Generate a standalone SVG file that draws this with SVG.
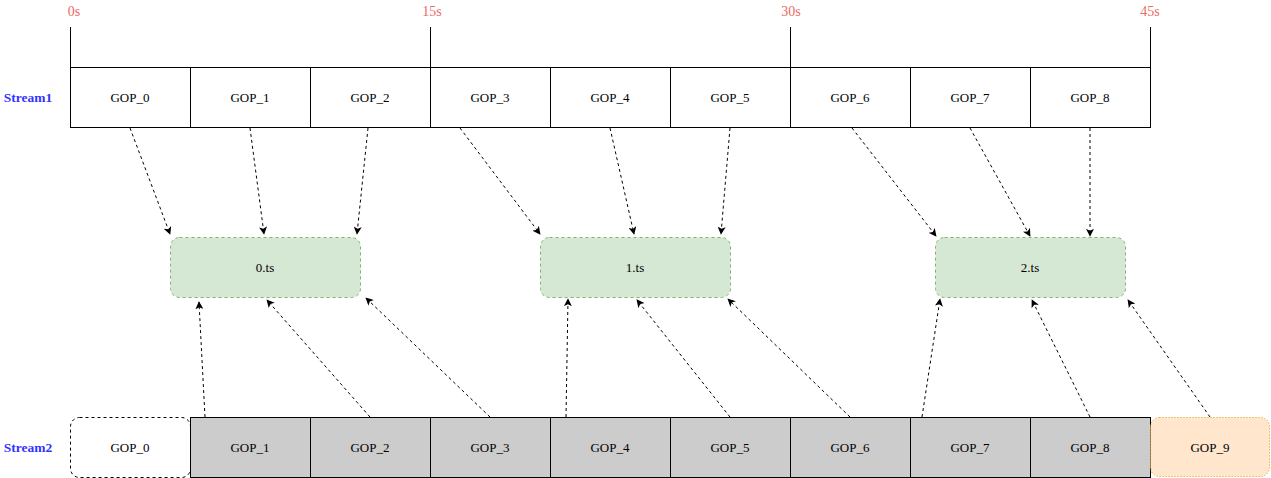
<svg xmlns="http://www.w3.org/2000/svg" width="1271" height="478" viewBox="0 0 1271 478">
<style>
text{font-family:"Liberation Serif","Times New Roman",serif;font-size:13px;text-anchor:middle;dominant-baseline:central;fill:#000}
.t{fill:#EA6B66;font-size:14px}
.s{fill:#3333FF;font-weight:bold;font-size:13.5px}
.g{fill:#fff;stroke:#000;stroke-width:1}
.gr{fill:#cccccc;stroke:#000;stroke-width:1}
.ts{fill:#d5e8d4;stroke:#82b366;stroke-width:1;stroke-dasharray:3 3}
.c{fill:none;stroke:#000;stroke-width:1;stroke-dasharray:3 3;marker-end:url(#a)}
.tick{stroke:#000;stroke-width:1;fill:none}
</style>
<defs>
<marker id="a" viewBox="0 0 10 10" refX="9" refY="5" markerWidth="8" markerHeight="8" orient="auto" markerUnits="userSpaceOnUse">
<path d="M0,0 L10,5 L0,10 L2.5,5 Z" fill="#000"/>
</marker>
</defs>
<rect width="1271" height="478" fill="#fff"/>
<g id="timeline">
<path class="tick" d="M70.5,27V67M430.5,27V67M790.5,27V67M1150.5,27V67"/>
<text class="t" x="74" y="11">0s</text>
<text class="t" x="432" y="11">15s</text>
<text class="t" x="791" y="11">30s</text>
<text class="t" x="1150" y="11">45s</text>
</g>
<g id="stream1-label"><text class="s" x="28" y="97">Stream1</text></g>
<g id="stream2-label"><text class="s" x="28" y="447">Stream2</text></g>
<g id="s1-gop0"><rect class="g" x="70.5" y="67.5" width="120" height="60"/><text x="130" y="97">GOP_0</text></g>
<g id="s1-gop1"><rect class="g" x="190.5" y="67.5" width="120" height="60"/><text x="250" y="97">GOP_1</text></g>
<g id="s1-gop2"><rect class="g" x="310.5" y="67.5" width="120" height="60"/><text x="370" y="97">GOP_2</text></g>
<g id="s1-gop3"><rect class="g" x="430.5" y="67.5" width="120" height="60"/><text x="490" y="97">GOP_3</text></g>
<g id="s1-gop4"><rect class="g" x="550.5" y="67.5" width="120" height="60"/><text x="610" y="97">GOP_4</text></g>
<g id="s1-gop5"><rect class="g" x="670.5" y="67.5" width="120" height="60"/><text x="730" y="97">GOP_5</text></g>
<g id="s1-gop6"><rect class="g" x="790.5" y="67.5" width="120" height="60"/><text x="850" y="97">GOP_6</text></g>
<g id="s1-gop7"><rect class="g" x="910.5" y="67.5" width="120" height="60"/><text x="970" y="97">GOP_7</text></g>
<g id="s1-gop8"><rect class="g" x="1030.5" y="67.5" width="120" height="60"/><text x="1090" y="97">GOP_8</text></g>
<g id="ts0"><rect class="ts" x="170.5" y="237.5" width="190" height="60" rx="9"/><text x="265" y="267">0.ts</text></g>
<g id="ts1"><rect class="ts" x="540.5" y="237.5" width="190" height="60" rx="9"/><text x="635" y="267">1.ts</text></g>
<g id="ts2"><rect class="ts" x="935.5" y="237.5" width="190" height="60" rx="9"/><text x="1030" y="267">2.ts</text></g>
<g id="s2-gop0"><rect x="70.5" y="417.5" width="120" height="60" rx="9" fill="#fff" stroke="#000" stroke-dasharray="3 3"/><text x="130" y="447">GOP_0</text></g>
<g id="s2-gop1"><rect class="gr" x="190.5" y="417.5" width="120" height="60"/><text x="250" y="447">GOP_1</text></g>
<g id="s2-gop2"><rect class="gr" x="310.5" y="417.5" width="120" height="60"/><text x="370" y="447">GOP_2</text></g>
<g id="s2-gop3"><rect class="gr" x="430.5" y="417.5" width="120" height="60"/><text x="490" y="447">GOP_3</text></g>
<g id="s2-gop4"><rect class="gr" x="550.5" y="417.5" width="120" height="60"/><text x="610" y="447">GOP_4</text></g>
<g id="s2-gop5"><rect class="gr" x="670.5" y="417.5" width="120" height="60"/><text x="730" y="447">GOP_5</text></g>
<g id="s2-gop6"><rect class="gr" x="790.5" y="417.5" width="120" height="60"/><text x="850" y="447">GOP_6</text></g>
<g id="s2-gop7"><rect class="gr" x="910.5" y="417.5" width="120" height="60"/><text x="970" y="447">GOP_7</text></g>
<g id="s2-gop8"><rect class="gr" x="1030.5" y="417.5" width="120" height="60"/><text x="1090" y="447">GOP_8</text></g>
<g id="s2-gop9"><rect x="1150.5" y="417.5" width="119" height="59" rx="9" fill="#ffe6cc" stroke="#d79b00" stroke-dasharray="1 2"/><text x="1210" y="447">GOP_9</text></g>
<g id="connectors">
<line class="c" x1="130" y1="128" x2="170" y2="234"/>
<line class="c" x1="250" y1="128" x2="264" y2="234"/>
<line class="c" x1="368" y1="128" x2="357" y2="234"/>
<line class="c" x1="460" y1="128" x2="540" y2="234"/>
<line class="c" x1="610" y1="128" x2="634" y2="234"/>
<line class="c" x1="730" y1="128" x2="721" y2="234"/>
<line class="c" x1="852" y1="128" x2="936" y2="236"/>
<line class="c" x1="970" y1="128" x2="1030" y2="236"/>
<line class="c" x1="1090" y1="128" x2="1090" y2="236"/>
<line class="c" x1="205" y1="417" x2="199" y2="302"/>
<line class="c" x1="370" y1="417" x2="267" y2="300"/>
<line class="c" x1="490" y1="417" x2="366" y2="298"/>
<line class="c" x1="566" y1="417" x2="568" y2="299"/>
<line class="c" x1="730" y1="417" x2="637" y2="300"/>
<line class="c" x1="850" y1="417" x2="728" y2="299"/>
<line class="c" x1="922" y1="417" x2="940" y2="299"/>
<line class="c" x1="1090" y1="417" x2="1032" y2="300"/>
<line class="c" x1="1210" y1="417" x2="1128" y2="300"/>
</g>
</svg>
